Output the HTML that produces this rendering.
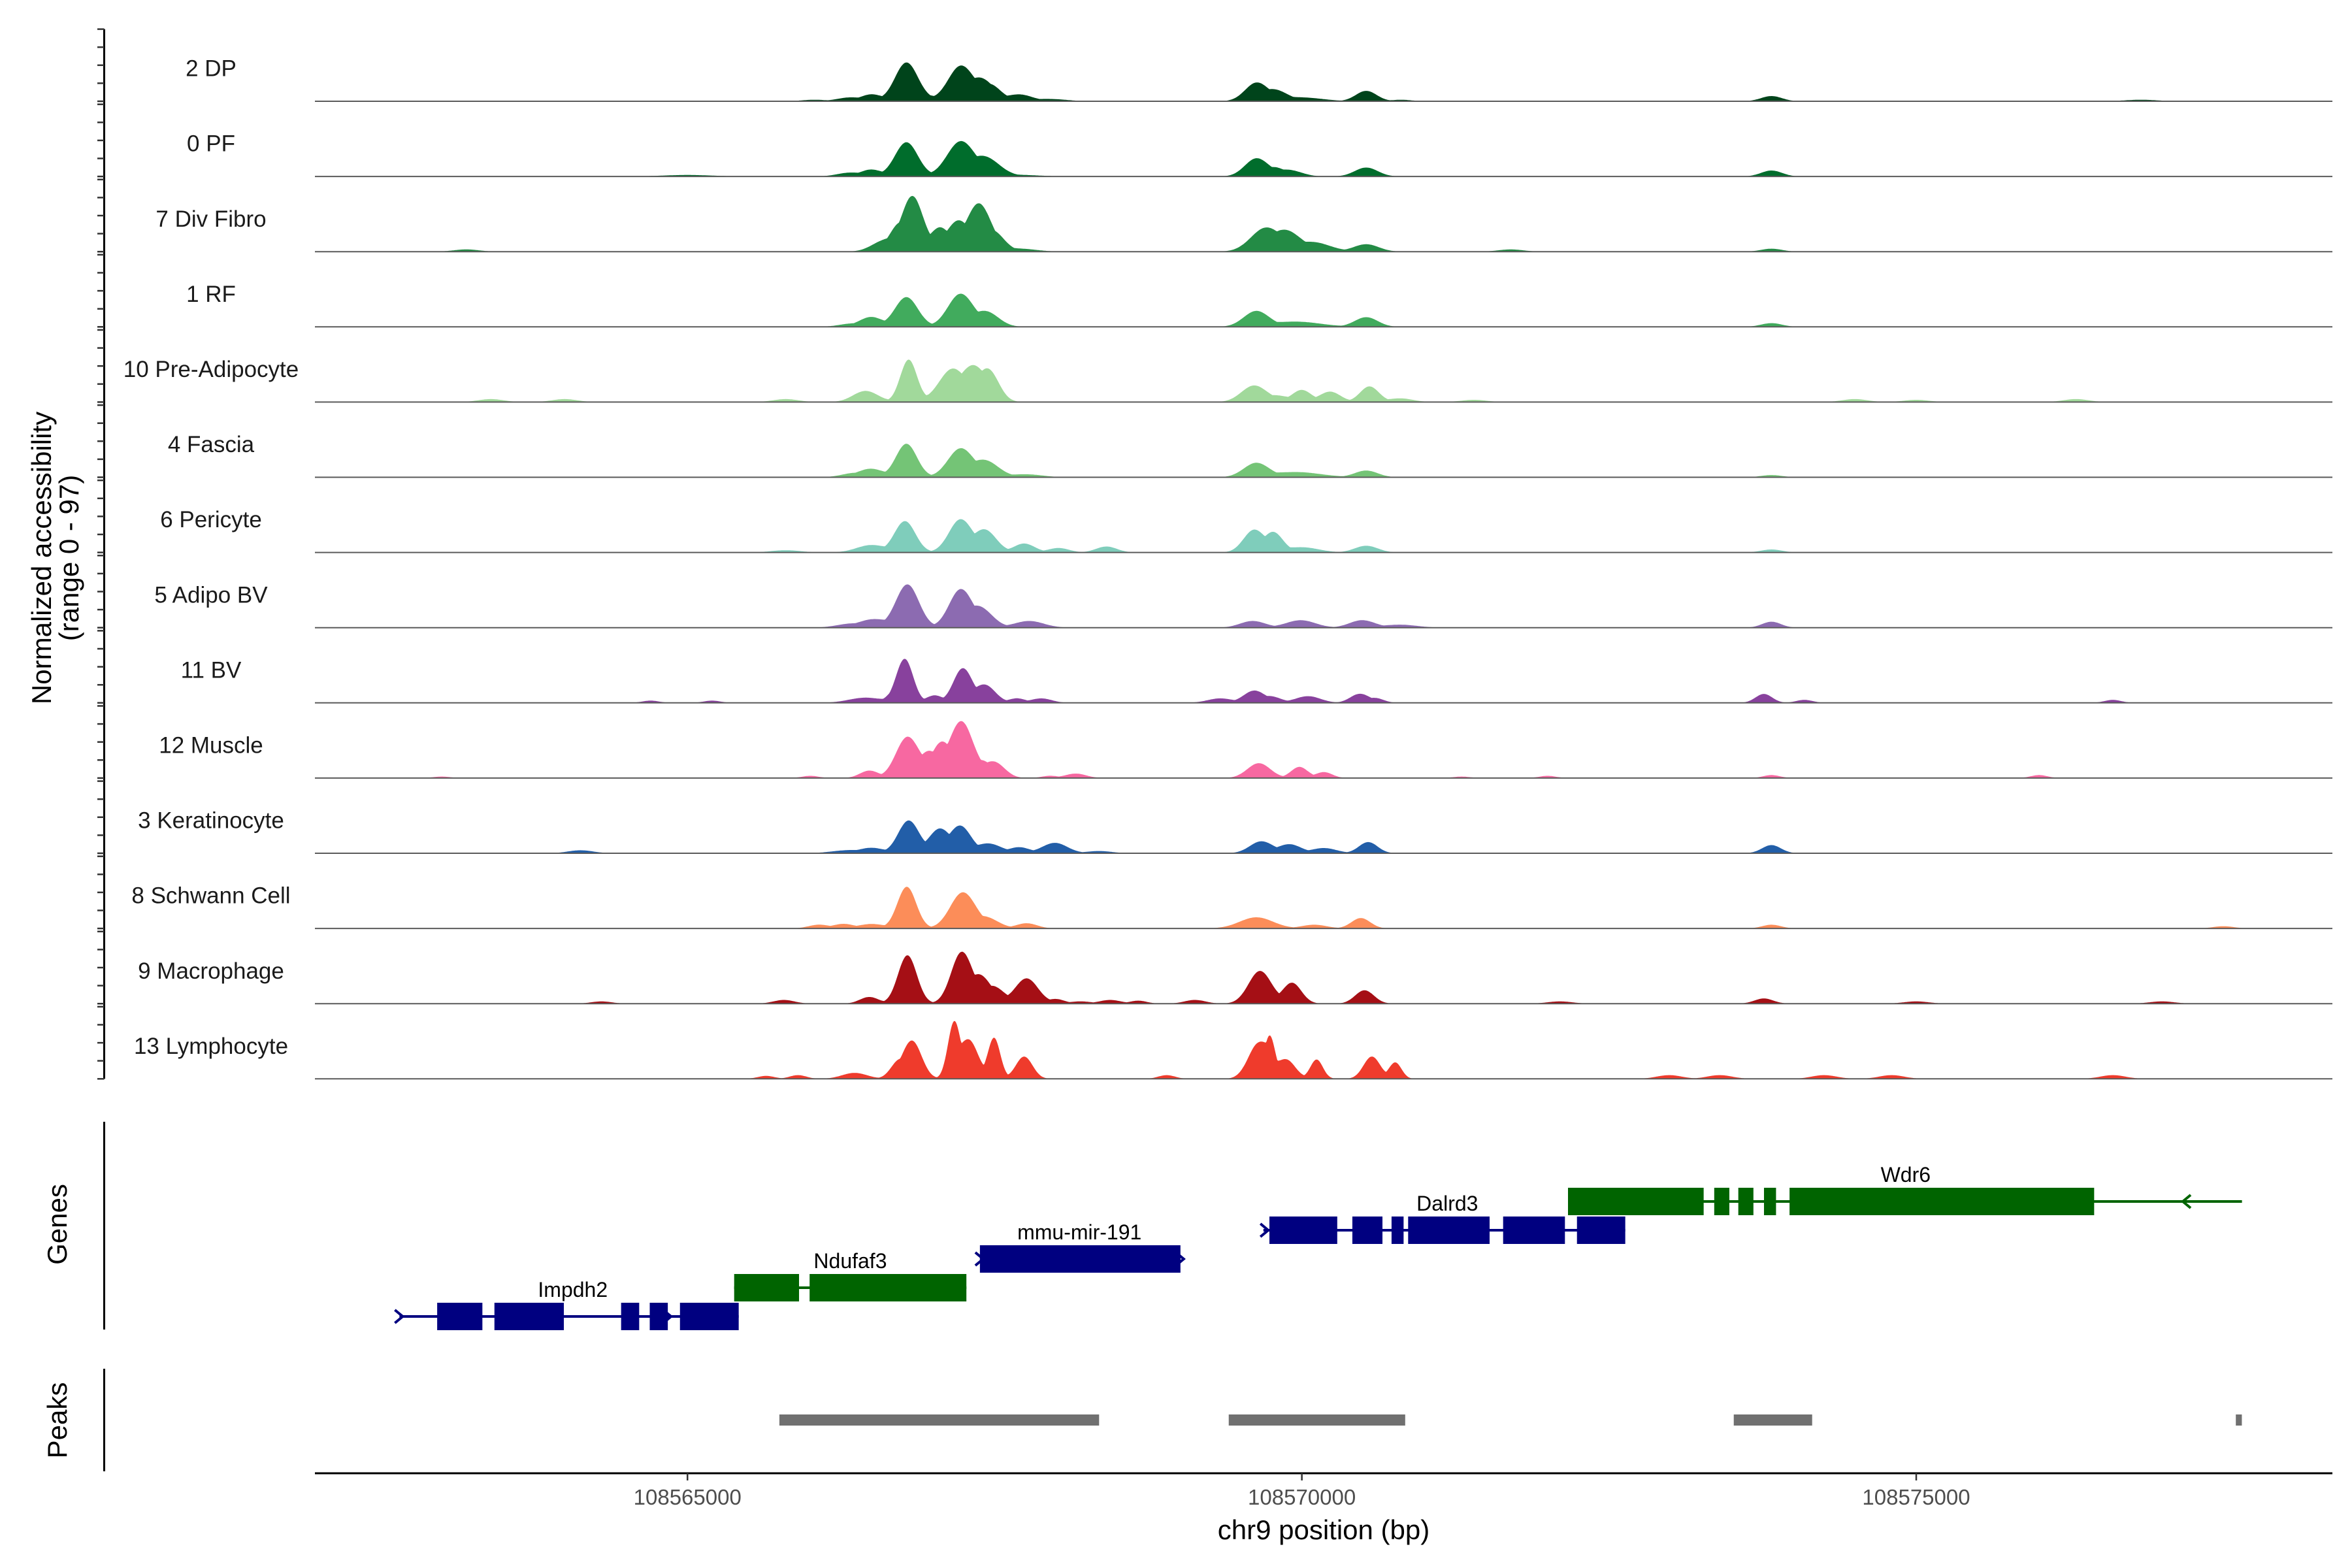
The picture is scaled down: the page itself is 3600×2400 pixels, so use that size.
<!DOCTYPE html>
<html><head><meta charset="utf-8"><style>
html,body{margin:0;padding:0;background:#fff}
svg{display:block}
text{font-family:"Liberation Sans",Arial,sans-serif}
</style></head><body>
<svg id="fig" width="3600" height="2400" viewBox="0 0 3600 2400" xmlns="http://www.w3.org/2000/svg">
<g id="tracks"></g>
<g id="genes"></g>
<g id="peaks"></g>
<g id="axes"></g>
<text x="0" y="0" transform="translate(78,854) rotate(-90)" text-anchor="middle" font-size="42" fill="#000">Normalized accessibility</text>
<text x="0" y="0" transform="translate(120,854) rotate(-90)" text-anchor="middle" font-size="42" fill="#000">(range 0 - 97)</text>
<text x="0" y="0" transform="translate(102,1874) rotate(-90)" text-anchor="middle" font-size="42" fill="#000">Genes</text>
<text x="0" y="0" transform="translate(102,2174) rotate(-90)" text-anchor="middle" font-size="42" fill="#000">Peaks</text>
<text x="2026" y="2356" text-anchor="middle" font-size="42" fill="#000">chr9 position (bp)</text>
</svg>
<script>
// ---- data ----
const trackNames = ["2 DP","0 PF","7 Div Fibro","1 RF","10 Pre-Adipocyte","4 Fascia","6 Pericyte","5 Adipo BV","11 BV","12 Muscle","3 Keratinocyte","8 Schwann Cell","9 Macrophage","13 Lymphocyte"];
const trackColors = ["#00441b","#006d2c","#238b45","#41ab5d","#a1d99b","#74c476","#7fcdbb","#8c6bb1","#88419d","#f768a1","#225ea8","#fc8d59","#a50f15","#ef3b2c"];
// peaks per track: [center bp, value (0-97), width bp]
const peaksDP = [[108566031,2,60],[108566320,5,60],[108566500,9,50],[108566782,52,55],[108566960,6,50],[108567221,46,60],[108567380,26,60],[108567470,18,50],[108567700,9,60],[108567950,3,80],[108569629,24,55],[108569780,14,60],[108570000,5,100],[108570524,14,50],[108570809,2,50],[108573822,7,50],[108576829,2,80]];
const peaksPF = [[108566320,5,60],[108566497,9,50],[108566782,46,55],[108567221,46,65],[108567420,25,70],[108567700,2,100],[108569629,24,55],[108569780,10,50],[108569900,8,60],[108570524,12,55],[108573822,8,50],[108565000,2,120]];
const peaksDivFibro = [[108566600,14,60],[108566720,30,45],[108566835,72,50],[108567050,30,45],[108567200,38,50],[108567370,62,55],[108567500,22,50],[108567700,4,80],[108569700,30,70],[108569870,26,70],[108570100,12,80],[108570524,10,60],[108573822,4,50],[108563200,3,60],[108571700,3,60]];
const peaksRF = [[108566497,13,55],[108566330,4,60],[108566782,40,55],[108567221,44,60],[108567430,20,60],[108569629,21,60],[108569950,7,120],[108570524,13,55],[108573822,5,50]];
const peaksPreAdipo = [[108566450,15,60],[108566800,57,40],[108566990,8,40],[108567150,42,60],[108567320,44,60],[108567450,40,50],[108569610,22,60],[108569800,8,60],[108570000,16,45],[108570230,14,50],[108570550,21,45],[108570800,5,60],[108563400,4,60],[108564000,4,60],[108565800,4,60],[108571400,3,60],[108574500,4,60],[108576300,4,60],[108575000,3,60]];
const peaksFascia = [[108566497,11,60],[108566350,5,60],[108566782,45,50],[108567221,38,60],[108567420,22,65],[108567750,4,80],[108569629,19,60],[108569950,7,120],[108570524,9,55],[108573822,3,50]];
const peaksPericyte = [[108566497,10,70],[108566770,42,50],[108567221,44,55],[108567420,30,55],[108567740,12,50],[108568020,6,50],[108568410,8,50],[108569610,30,50],[108569770,26,45],[108570000,7,80],[108570524,9,55],[108573822,4,50],[108565800,3,70]];
const peaksAdipoBV = [[108566330,5,70],[108566520,11,70],[108566790,58,55],[108567221,50,55],[108567380,26,60],[108567780,9,70],[108569600,9,60],[108569990,10,70],[108570490,10,60],[108570800,4,80],[108573822,8,45]];
const peaksBV = [[108566450,7,80],[108566700,14,40],[108566770,57,40],[108567010,10,40],[108567240,46,45],[108567420,24,50],[108567680,6,40],[108567880,6,50],[108569335,6,60],[108569610,16,50],[108569750,8,50],[108570050,9,60],[108570470,12,45],[108570600,6,40],[108573760,12,40],[108574090,4,40],[108576600,4,40],[108564700,3,40],[108565200,3,40]];
const peaksMuscle = [[108566480,10,45],[108566790,55,55],[108566960,30,45],[108567070,42,45],[108567230,75,55],[108567400,18,45],[108567500,20,50],[108568160,6,50],[108569650,20,55],[108569980,15,40],[108570180,8,40],[108566000,3,40],[108567950,3,40],[108573822,4,40],[108576000,4,40],[108563000,2,40],[108571300,2,40],[108572000,3,40]];
const peaksKerat = [[108566500,7,60],[108566310,4,80],[108566800,44,50],[108567050,32,50],[108567221,36,50],[108567450,13,60],[108567700,8,50],[108567990,14,60],[108569670,16,55],[108569900,12,55],[108570180,7,60],[108570540,15,45],[108573822,11,45],[108564130,4,60],[108568350,3,60]];
const peaksSchwann = [[108566070,5,50],[108566270,6,50],[108566500,6,60],[108566785,56,45],[108567240,48,60],[108567430,14,60],[108567760,7,50],[108569630,15,80],[108570100,5,60],[108570480,14,45],[108573822,5,45],[108577500,3,50]];
const peaksMacro = [[108566480,9,45],[108565785,5,50],[108566790,65,45],[108567230,68,50],[108567380,34,50],[108567500,20,50],[108567760,34,55],[108568000,6,40],[108568440,5,50],[108568670,4,40],[108569130,5,50],[108569660,44,55],[108569920,28,45],[108570510,18,45],[108564300,3,50],[108568200,3,50],[108572100,3,60],[108573760,7,45],[108575000,3,60],[108577000,3,60]];
const peaksLympho = [[108566360,8,60],[108566720,22,40],[108566830,50,45],[108567170,74,30],[108567290,52,45],[108567495,55,30],[108567740,30,40],[108569650,48,50],[108569740,50,25],[108569870,26,45],[108570120,26,30],[108570570,30,40],[108570760,22,30],[108565900,5,40],[108568900,5,40],[108572990,5,60],[108573400,5,60],[108574250,5,60],[108574800,5,60],[108576600,5,60],[108565640,4,40]];
const trackPeaks = [peaksDP,peaksPF,peaksDivFibro,peaksRF,peaksPreAdipo,peaksFascia,peaksPericyte,peaksAdipoBV,peaksBV,peaksMuscle,peaksKerat,peaksSchwann,peaksMacro,peaksLympho];
const xTicks = [108565000,108570000,108575000];
const yMax = 97;
const geneNames = ["Impdh2","Ndufaf3","mmu-mir-191","Dalrd3","Wdr6"];
const geneColors = ["#000080","#006400","#000080","#000080","#006400"];
const geneRows = [0,1,2,3,4];
const geneLines = [[108562656,108565417],[108565380,108567270],[108567380,108569012],[108569687,108572632],[108572166,108577651]];
const geneExons = [
 [[108562963,108563331],[108563429,108563994],[108564460,108564607],[108564693,108564840],[108564939,108565417]],
 [[108565380,108565908],[108565994,108567270]],
 [[108567380,108569012]],
 [[108569736,108570288],[108570411,108570656],[108570730,108570828],[108570865,108571528],[108571638,108572141],[108572239,108572632]],
 [[108572166,108573270],[108573356,108573479],[108573552,108573675],[108573761,108573859],[108573969,108576448]]];
const geneArrows = [[108562656,108564840],[],[108567380,108569012],[108569700],[108577196]];
const geneStrand = ["+","-","+","+","-"];
const geneLabelPos = [108564067,108566325,108568190,108571184,108574914];
const peakRanges = [[108565748,108568350],[108569405,108570841],[108573515,108574153],[108577601,108577650]];

// ---- scales ----
const X0=482, X1=3570, BP0=108561968;
const bpPerPx = 5.317;
const xs = bp => X0 + (bp-BP0)/bpPerPx;
const BP1 = BP0 + (X1-X0)*bpPerPx;
const trackTop0 = 44.6, trackStep = 115.1, trackH = 110.4;
const WIDTH_FACTOR = 1.7;
const NS="http://www.w3.org/2000/svg";
function mk(tag, attrs, parent){const e=document.createElementNS(NS,tag);for(const k in attrs)e.setAttribute(k,attrs[k]);parent.appendChild(e);return e;}

const gT=document.getElementById('tracks');
const gA=document.getElementById('axes');
let ax=mk('line',{x1:159.5,y1:trackTop0,x2:159.5,y2:trackTop0+13*trackStep+trackH,stroke:'#000','stroke-width':3},gA);



trackPeaks.forEach((pk,i)=>{
  const top = trackTop0 + i*trackStep, base = top + trackH;
  const g = mk('g',{},gT);
  
  
  let d='M'+X0+','+base;
  for(let bp=BP0; bp<=BP1; bp+=8){
    let v=0, s=0;
    for(const p of pk){const z=(bp-p[0])/(p[2]*WIDTH_FACTOR); if(Math.abs(z)<5){const u=p[1]*Math.exp(-0.5*z*z); if(u>v)v=u; s+=u;}}
    v = v + 0.25*(s-v);
    if(v<0.6) v=0;
    v=Math.min(v,yMax);
    d+=' L'+xs(bp).toFixed(1)+','+(base - v/yMax*trackH).toFixed(1);
  }
  d+=' L'+X1+','+base+' Z';
  const a=mk('path',{d:d,fill:trackColors[i],stroke:'none'},g);
  
  
  const bl=mk('line',{x1:X0,y1:base,x2:X1,y2:base,stroke:'#5a5a5a','stroke-width':2},g);
  
  
  const t=mk('text',{x:323,y:top+72,'text-anchor':'middle','font-size':35,fill:'#1a1a1a'},g);
  t.textContent=trackNames[i];
  
  
  for(let k=0;k<5;k++){
    const ty=top+k*trackH/4;
    const tk=mk('line',{x1:149,y1:ty,x2:159.5,y2:ty,stroke:'#333','stroke-width':2.5},gA);
    
    
  }
});

const gG=document.getElementById('genes');
let gl=mk('line',{x1:159.5,y1:1717,x2:159.5,y2:2035,stroke:'#000','stroke-width':3},gA);


const rowY=[2015,1971,1927,1883,1839];
geneNames.forEach((n,i)=>{
  const y=rowY[geneRows[i]], c=geneColors[i];
  const g=mk('g',{},gG);
  
  
  const ln=mk('line',{x1:xs(geneLines[i][0]),y1:y,x2:xs(geneLines[i][1]),y2:y,stroke:c,'stroke-width':4},g);
  
  
  geneExons[i].forEach(e=>{
    const r=mk('rect',{x:xs(e[0]),y:y-21,width:xs(e[1])-xs(e[0]),height:42,fill:c},g);
    
    
  });
  geneArrows[i].forEach(bp=>{
    const ax0=xs(bp), s=geneStrand[i]==='+'?1:-1;
    const p=mk('polyline',{points:(ax0-7*s)+','+(y-10)+' '+(ax0+5*s)+','+y+' '+(ax0-7*s)+','+(y+10),fill:'none',stroke:c,'stroke-width':4},g);
    
    
  });
  const t=mk('text',{x:xs(geneLabelPos[i]),y:y-30,'text-anchor':'middle','font-size':32,fill:'#000'},g);
  t.textContent=n;
  
  
});

const gP=document.getElementById('peaks');
let pl=mk('line',{x1:159.5,y1:2095,x2:159.5,y2:2252,stroke:'#000','stroke-width':3},gA);


peakRanges.forEach(r=>{
  const rc=mk('rect',{x:xs(r[0]),y:2165,width:Math.max(6,xs(r[1])-xs(r[0])),height:17,fill:'#707070'},gP);
  
  
});

let xl=mk('line',{x1:X0,y1:2255,x2:X1,y2:2255,stroke:'#000','stroke-width':3},gA);


xTicks.forEach(v=>{
  const x=xs(v);
  const tk=mk('line',{x1:x,y1:2255,x2:x,y2:2266,stroke:'#333','stroke-width':2.5},gA);
  
  
  const t=mk('text',{x:x,y:2303,'text-anchor':'middle','font-size':33,fill:'#4d4d4d'},gA);
  t.textContent=String(v);
  
  
});
</script>
</body></html>
